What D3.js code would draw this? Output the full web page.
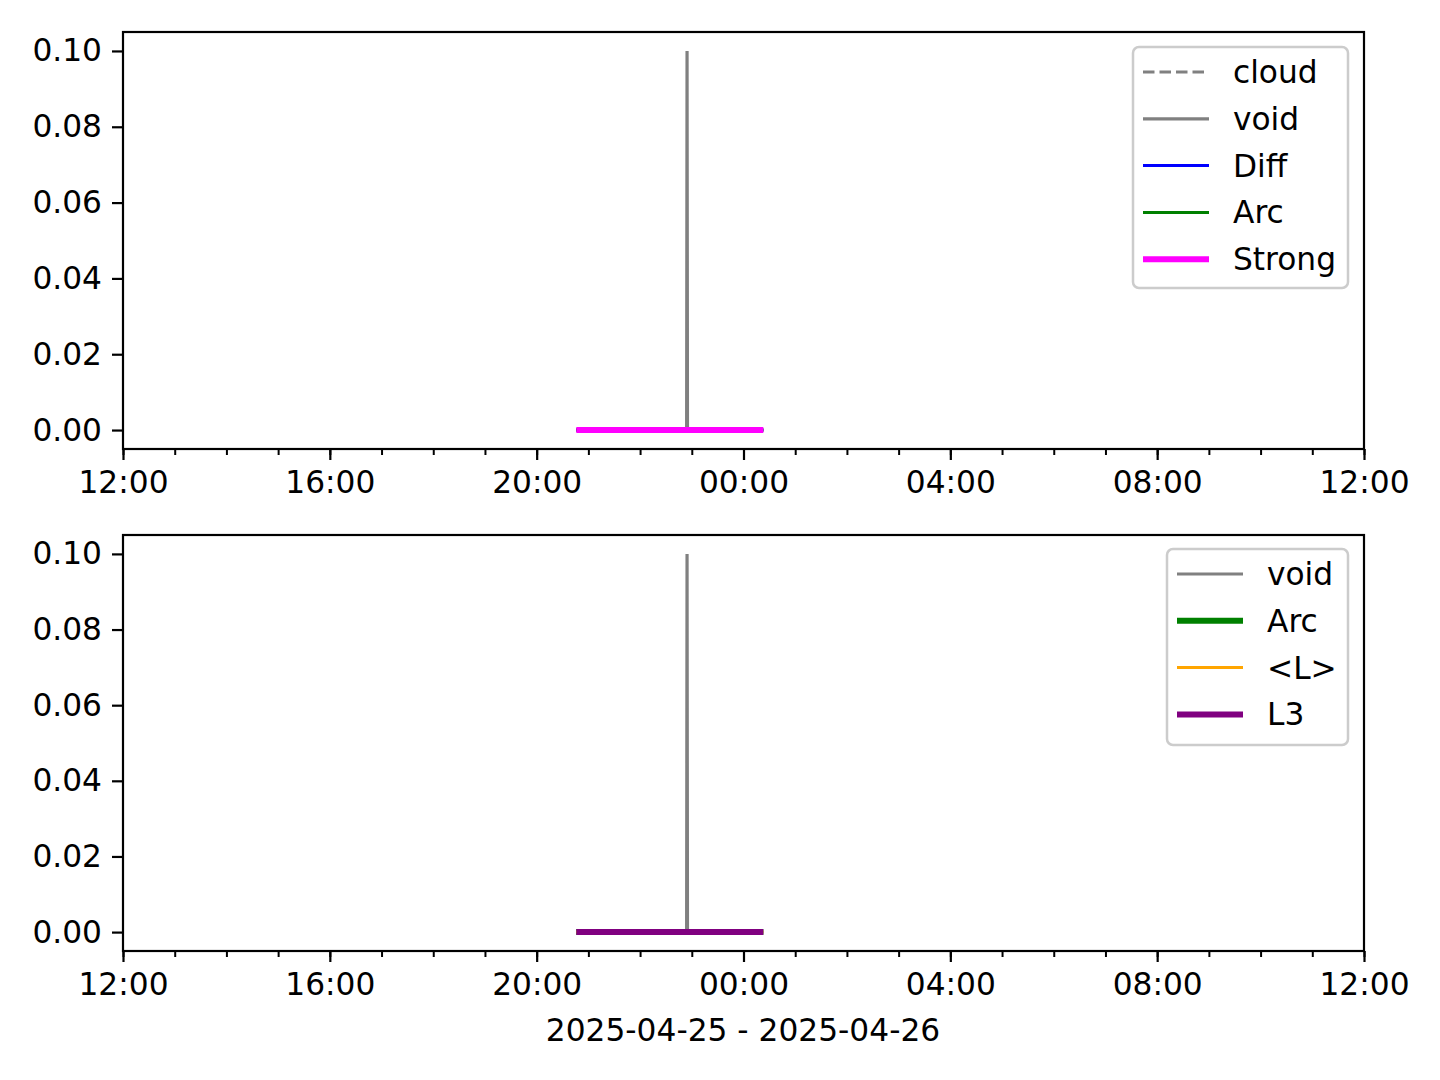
<!DOCTYPE html>
<html><head><meta charset="utf-8">
<script src="https://cdn.jsdelivr.net/npm/d3@7"></script>
<style>body{margin:0;background:#fff}text{font-family:"DejaVu Sans",sans-serif}</style>
</head><body>
<svg id="c" width="1440" height="1080"></svg>
<script>
// ---- data ----
const times = ["2025-04-25T20:46:00","2025-04-25T22:54:00","2025-04-25T22:54:30","2025-04-25T22:55:00","2025-04-26T00:23:00"];
const cloudVals = [0,0,0,0,0];
const voidVals = [0,0,0.1,0,0];
const diffVals = [0,0,0,0,0];
const arcVals = [0,0,0,0,0];
const strongVals = [0,0,0,0,0];
const lAvgVals = [0,0,0,0,0];
const l3Vals = [0,0,0,0,0];
const xDomain = ["2025-04-25T12:00:00","2025-04-26T12:00:00"];
const yDomain = [-0.005, 0.105];
const yTicks = [0,0.02,0.04,0.06,0.08,0.10];
const xLabel = "2025-04-25 - 2025-04-26";

const parse = d3.utcParse("%Y-%m-%dT%H:%M:%S");
const T = times.map(parse);
const svg = d3.select("#c");
const FS = 31.25;

function panel(top, bottom, series, legendBox) {
  const left = 123, right = 1364;
  const x = d3.scaleUtc().domain(xDomain.map(parse)).range([left, right]);
  const y = d3.scaleLinear().domain(yDomain).range([bottom, top]);
  const g = svg.append("g");
  const line = d3.line().x(d => x(d[0])).y(d => y(d[1]));
  series.forEach(s => {
    g.append("path").datum(T.map((t,i)=>[t, s.vals[i]]))
      .attr("d", line).attr("fill","none").attr("stroke", s.color)
      .attr("stroke-width", s.w).attr("stroke-dasharray", s.dash || null);
  });
  // axes
  const xMinor = d3.axisBottom(x).ticks(d3.utcHour.every(1)).tickSize(6).tickFormat("");
  const gm = svg.append("g").attr("transform",`translate(0,${bottom})`).call(xMinor);
  gm.select(".domain").remove();
  gm.selectAll("line").attr("stroke","#000").attr("stroke-width",2);
  const xAx = d3.axisBottom(x).ticks(d3.utcHour.every(4)).tickSize(11).tickPadding(11).tickFormat(d3.utcFormat("%H:%M"));
  const gx = svg.append("g").attr("transform",`translate(0,${bottom})`).call(xAx);
  gx.select(".domain").remove();
  gx.selectAll("line").attr("stroke","#000").attr("stroke-width",2.2);
  gx.selectAll("text").attr("font-size",FS).attr("fill","#000").attr("font-family","DejaVu Sans");
  const yAx = d3.axisLeft(y).tickValues(yTicks).tickSize(11).tickPadding(10).tickFormat(d3.format(".2f"));
  const gy = svg.append("g").attr("transform",`translate(${left},0)`).call(yAx);
  gy.select(".domain").remove();
  gy.selectAll("line").attr("stroke","#000").attr("stroke-width",2.2);
  gy.selectAll("text").attr("font-size",FS).attr("fill","#000").attr("font-family","DejaVu Sans");
  svg.append("rect").attr("x",left).attr("y",top).attr("width",right-left).attr("height",bottom-top)
    .attr("fill","none").attr("stroke","#000").attr("stroke-width",2.2);
  // legend
  const lb = legendBox;
  svg.append("rect").attr("x",lb.x).attr("y",lb.y).attr("width",lb.w).attr("height",lb.h)
    .attr("rx",6).attr("fill","#fff").attr("fill-opacity",0.8).attr("stroke","#cccccc").attr("stroke-width",2.5);
  series.forEach((s,i) => {
    const cy = lb.y + 25 + i*46.8;
    svg.append("line").attr("x1",lb.x+10).attr("x2",lb.x+76).attr("y1",cy).attr("y2",cy)
      .attr("stroke",s.color).attr("stroke-width",s.w).attr("stroke-dasharray",s.dash||null);
    svg.append("text").attr("x",lb.x+100).attr("y",cy+11).attr("font-size",FS).text(s.name);
  });
}

panel(32, 449, [
  {name:"cloud", vals:cloudVals, color:"#808080", w:3, dash:"11.5,5"},
  {name:"void", vals:voidVals, color:"#808080", w:3.2},
  {name:"Diff", vals:diffVals, color:"#0000ff", w:3},
  {name:"Arc", vals:arcVals, color:"#008000", w:3},
  {name:"Strong", vals:strongVals, color:"#ff00ff", w:6}
], {x:1133, y:47, w:215, h:241});

panel(535, 951, [
  {name:"void", vals:voidVals, color:"#808080", w:3.2},
  {name:"Arc", vals:arcVals, color:"#008000", w:6},
  {name:"<L>", vals:lAvgVals, color:"#ffa500", w:3},
  {name:"L3", vals:l3Vals, color:"#800080", w:6}
], {x:1167, y:549, w:181, h:196});

svg.append("text").attr("x",743).attr("y",1041).attr("text-anchor","middle").attr("font-size",FS).text(xLabel);
</script>
</body></html>
